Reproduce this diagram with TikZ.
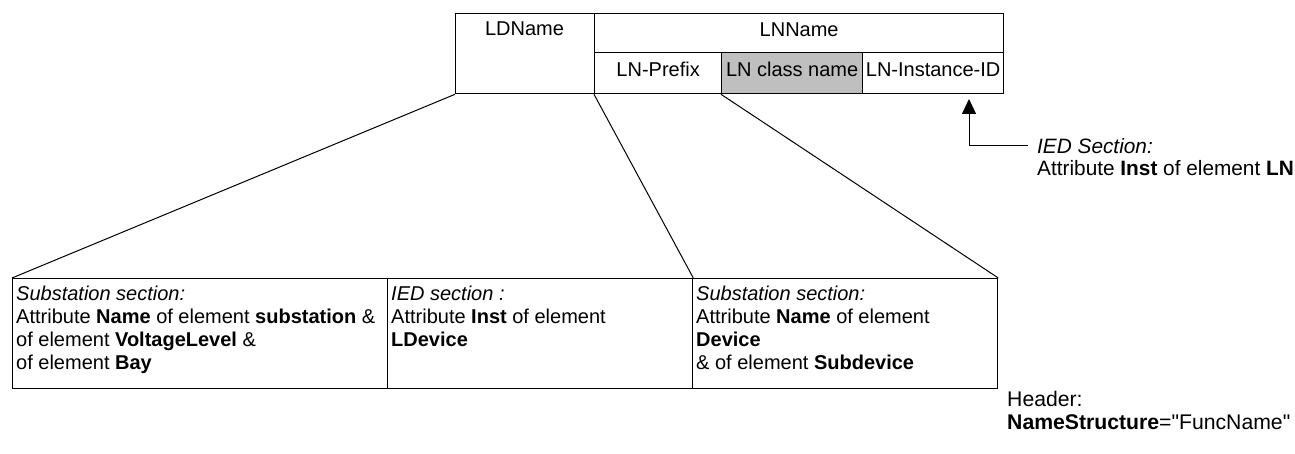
\documentclass[tikz,border=0pt]{standalone}
\usepackage{fontspec}
\setmainfont{Liberation Sans}
\usetikzlibrary{arrows.meta}

\begin{document}
\begin{tikzpicture}
  [x=1pt,y=-1pt,every node/.style={font=\fontsize{20}{23}\selectfont},
   cell/.style={draw,line width=1.3pt,rectangle,inner sep=0pt,anchor=north west,
     text height=14.5pt,text depth=7pt},
   note/.style={align=left,anchor=north west,inner sep=0pt},
   side/.style={font=\fontsize{20.8}{23}\selectfont}]
  \useasboundingbox (0,0) rectangle (1295,454);

  % name parts
  \node[cell,minimum width=139pt,minimum height=80pt] (ld) at (455,13) {};
  \node[cell,minimum width=409pt,minimum height=39pt] (lnname) at (594,13) {LNName};
  \node[cell,minimum width=127pt,minimum height=41pt] (lnpre) at (594,52) {LN-Prefix};
  \node[cell,minimum width=141pt,minimum height=41pt,fill=black!25] (lncls) at (721,52) {LN class name};
  \node[cell,minimum width=141pt,minimum height=41pt] (lninst) at (862,52) {LN-Instance-ID};
  \node (ldtxt) at (524.5,28.5) {LDName};

  % sources
  \node[cell,minimum width=375pt,minimum height=110pt] (sub1) at (12,278) {};
  \node[cell,minimum width=305pt,minimum height=110pt] (ied) at (387,278) {};
  \node[cell,minimum width=305pt,minimum height=110pt] (sub2) at (692,278) {};
  \node[note] (sub1txt) at ([xshift=4pt,yshift=-8pt]sub1.north west)
    {\textit{Substation section:}\\Attribute \textbf{Name} of element \textbf{substation} \&\\
     of element \textbf{VoltageLevel} \&\\of element \textbf{Bay}};
  \node[note] (iedtxt) at ([xshift=4pt,yshift=-8pt]ied.north west)
    {\textit{IED section :}\\Attribute \textbf{Inst} of element\\\textbf{LDevice}};
  \node[note] (sub2txt) at ([xshift=4pt,yshift=-8pt]sub2.north west)
    {\textit{Substation section:}\\Attribute \textbf{Name} of element\\\textbf{Device}\\
     \& of element \textbf{Subdevice}};

  \foreach \from/\to in {ld.south west/sub1.north west,lnpre.south west/ied.north east,
                         lncls.south west/sub2.north east}
    \draw[line width=1pt] (\from) -- (\to);

  % instance
  \coordinate (tip) at (969,99);
  \node[side,anchor=west,inner sep=0pt,inner xsep=9pt] (insthd) at (1028,146) {\textit{IED Section:}};
  \node[side,note] (insttxt) at (1037,160) {Attribute \textbf{Inst} of element \textbf{LN}};
  \draw[line width=1pt,-{Triangle[width=14pt,length=15pt]}] (insthd.west) -| (tip);

  \node[side,note,font=\fontsize{21.2}{23}\selectfont] (header) at (1007,391)
    {Header:\\\textbf{NameStructure}=\textquotedbl FuncName\textquotedbl};
\end{tikzpicture}
\end{document}
